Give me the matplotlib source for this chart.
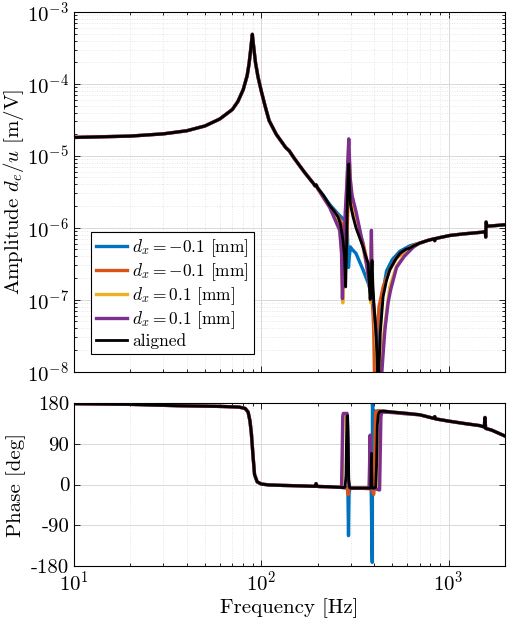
import numpy as np
import matplotlib as mpl
mpl.use('Agg')
import matplotlib.pyplot as plt
from matplotlib.ticker import LogLocator, NullFormatter

# matplotlib setup (LaTeX-like look)
mpl.rcParams['mathtext.fontset'] = 'cm'
mpl.rcParams['font.family'] = 'serif'
mpl.rcParams['font.serif'] = ['cmr10', 'DejaVu Serif']
mpl.rcParams['axes.formatter.use_mathtext'] = True
mpl.rcParams['font.size'] = 15

# ---- data ----
# shared part, below 200 Hz (all series overlap)
f_low = [10, 20, 30, 40, 50, 60, 70, 75, 80, 84, 86, 88, 89.5, 91, 93, 96, 100,
         105, 110, 120, 135, 141, 150, 170, 190, 194, 196]
amp_low = [1.80e-5, 1.88e-5, 2.02e-5, 2.23e-5, 2.60e-5, 3.25e-5, 4.4e-5, 5.7e-5, 8.3e-5,
           1.3e-4, 1.9e-4, 3.2e-4, 4.9e-4, 3.3e-4, 2.0e-4, 1.25e-4, 7.9e-5,
           4.8e-5, 3.1e-5, 2.0e-5, 1.3e-5, 1.17e-5, 9.2e-6, 5.9e-6, 4.1e-6, 3.8e-6, 3.95e-6]

# shared part, above 700 Hz
f_high = [700, 780, 835, 843, 850, 900, 1016, 1200, 1400, 1530, 1570, 1578, 1585, 1600,
          1700, 1850, 2000]
amp_high = [6.1e-7, 6.7e-7, 7.0e-7, 6.6e-7, 7.05e-7, 7.3e-7, 7.8e-7, 8.2e-7, 8.5e-7,
            8.7e-7, 8.9e-7, 7.4e-7, 1.2e-6, 1.05e-6, 1.06e-6, 1.08e-6, 1.1e-6]

# 200 - 650 Hz, per configuration
f_mid_blue = [200, 232, 257, 273, 283, 288, 292, 295, 299, 305, 320, 349, 372, 390, 400,
              408, 413, 418, 436, 466, 500, 549, 621, 650]
amp_mid_blue = [3.6e-6, 2.1e-6, 1.55e-6, 1.33e-6, 1.2e-6, 8e-7, 2.8e-7, 4e-7, 5.4e-7, 5e-7,
                4.4e-7, 2.6e-7, 1.7e-7, 1.1e-7, 6e-8, 2e-8, 4e-9, 2e-8, 9e-8, 2.5e-7,
                3.6e-7, 4.7e-7, 5.6e-7, 5.8e-7]

f_mid_orange = [200, 232, 257, 273, 281, 285, 289, 293, 297, 305, 320, 336, 349, 364, 380,
                390, 398, 404, 410, 425, 447, 485, 527, 580, 621, 650]
amp_mid_orange = [3.55e-6, 2.0e-6, 1.45e-6, 1.05e-6, 7e-7, 5.5e-7, 1.5e-6, 3.5e-6, 2.6e-6,
                  1.9e-6, 1.25e-6, 8.5e-7, 6.2e-7, 3.8e-7, 2.0e-7, 1.2e-7, 4e-8, 4e-9,
                  2.5e-8, 8e-8, 1.5e-7, 2.6e-7, 3.8e-7, 4.7e-7, 5.3e-7, 5.7e-7]

f_mid_yellow = [200, 232, 262, 268, 272, 276, 285, 293, 300, 315, 336, 364, 380, 384, 387,
                391, 410, 425, 440, 457, 485, 527, 580, 621, 650]
amp_mid_yellow = [3.5e-6, 1.95e-6, 1.0e-6, 5e-7, 9e-8, 4e-7, 3e-6, 1.3e-5, 3.5e-6, 1.8e-6,
                  8.8e-7, 3.1e-7, 1.4e-7, 9e-8, 6e-7, 1.5e-7, 2.5e-8, 4e-9, 2e-8, 4.5e-8,
                  1.5e-7, 2.9e-7, 4.2e-7, 4.9e-7, 5.5e-7]

f_mid_purple = [200, 232, 262, 268, 271, 274, 280, 286, 293, 298, 305, 320, 336, 350, 364,
                378, 383, 387, 390, 400, 415, 430, 445, 457, 475, 490, 527, 580, 621, 650]
amp_mid_purple = [3.5e-6, 1.9e-6, 9.2e-7, 4.5e-7, 1.03e-7, 3e-7, 1.5e-6, 4e-6, 1.72e-5,
                  5e-6, 2.8e-6, 1.7e-6, 9.2e-7, 5.5e-7, 3.2e-7, 1.6e-7, 1.2e-7, 9.2e-7,
                  1.5e-7, 7e-8, 2.5e-8, 4e-9, 1.5e-8, 3.8e-8, 9e-8, 1.36e-7, 2.8e-7, 4.0e-7,
                  4.8e-7, 5.4e-7]

f_mid_black = [200, 215, 232, 245, 257, 265, 273, 278, 282, 285, 288, 291, 293, 296, 299,
               304, 309, 320, 335, 349, 362, 372, 378, 381, 386, 390, 394, 400, 408, 414,
               418, 421, 425, 432, 447, 465, 485, 520, 549, 590, 621, 650]
amp_mid_black = [3.55e-6, 2.8e-6, 2.03e-6, 1.7e-6, 1.4e-6, 1.1e-6, 6.6e-7, 4.0e-7, 1.5e-7,
                 5e-7, 2.5e-6, 6e-6, 7.7e-6, 3.5e-6, 2.14e-6, 1.7e-6, 1.4e-6, 1.0e-6,
                 7.2e-7, 5.4e-7, 3.9e-7, 3.2e-7, 1.5e-7, 1.0e-7, 2e-7, 3.5e-7, 1.6e-7,
                 8e-8, 4e-8, 1.8e-8, 8e-9, 4e-9, 1.2e-8, 3.5e-8, 1.1e-7, 1.8e-7, 2.6e-7,
                 3.6e-7, 4.4e-7, 5.0e-7, 5.2e-7, 5.6e-7]

# phase [deg]
fp_low = [10, 20, 36, 60, 76, 82, 85, 87, 88.5, 89.5, 90.5, 92, 95, 100, 110, 130, 160,
          190, 194, 196, 198, 205, 230, 255]
ph_low = [178.5, 177, 174, 172.5, 171, 168, 160, 140, 112, 85, 58, 22, 6, 1, -1, -2, -3,
          -4, -4, 2, -4, -4.5, -5, -6]

fp_high = [700, 835, 843, 850, 1000, 1200, 1469, 1550, 1563, 1575, 1700, 2000]
ph_high = [154, 146, 150, 145, 140, 135, 130, 127, 148, 124, 120, 107]

fp_mid_blue = [260, 280, 288, 290, 292, 294, 297, 340, 380, 386, 389, 391, 392, 394, 400,
               450, 500, 600]
ph_mid_blue = [-6, -7, -8, -20, -113, -20, -8, -8, -8, -10, -120, -172, 177, 165, 162,
               162, 160, 157]

fp_mid_orange = [260, 288, 291, 294, 340, 390, 398, 402, 405, 408, 420, 450, 500, 600]
ph_mid_orange = [-6, -8, -22, -8, -8, -10, -22, 0, 120, 160, 163, 162, 160, 157]

fp_mid_yellow = [260, 270, 272, 274, 286, 289, 292, 340, 378, 381, 384, 410, 424, 427, 432,
                 440, 500, 600]
ph_mid_yellow = [-6, -6, 100, 155, 155, 60, -8, -8, -8, 90, -8, -10, -12, 80, 158, 160,
                 159, 156]

fp_mid_purple = [260, 268, 270, 272, 274, 287, 289, 291, 294, 340, 376, 379, 381, 383, 386,
                 410, 428, 431, 435, 440, 500, 600]
ph_mid_purple = [-6, -6, 60, 150, 157, 157, 120, 20, -8, -8, -8, 60, 109, 60, -8, -10, -12,
                 60, 150, 160, 159, 156]

fp_mid_black = [260, 275, 280, 283, 285, 287, 289, 291, 293, 296, 300, 340, 384, 387, 390,
                396, 408, 412, 416, 421, 428, 450, 500, 600]
ph_mid_black = [-6, -7, -6, 20, 100, 150, 152, 100, 10, -6, -8, -8, -8, 69, -5, -8, -6, 40,
                130, 155, 161, 162, 160, 157]

labels = [r'$d_x = -0.1$ [mm]', r'$d_x = -0.1$ [mm]', r'$d_x = 0.1$ [mm]',
          r'$d_x = 0.1$ [mm]', 'aligned']
colors = ['#0072BD', '#D95319', '#EDB120', '#7E2F8E', 'black']

amp_mids = [(f_mid_blue, amp_mid_blue), (f_mid_orange, amp_mid_orange),
            (f_mid_yellow, amp_mid_yellow), (f_mid_purple, amp_mid_purple),
            (f_mid_black, amp_mid_black)]
ph_mids = [(fp_mid_blue, ph_mid_blue), (fp_mid_orange, ph_mid_orange),
           (fp_mid_yellow, ph_mid_yellow), (fp_mid_purple, ph_mid_purple),
           (fp_mid_black, ph_mid_black)]

# ---- figure ----
fig = plt.figure(figsize=(5.09, 6.25), dpi=100)
ax1 = fig.add_axes([0.1454, 0.4056, 0.8468, 0.5752])
ax2 = fig.add_axes([0.1454, 0.0944, 0.8468, 0.2608], sharex=ax1)

for i in range(5):
  lw = 2.0 if i == 4 else 2.4
  f = np.concatenate([f_low, amp_mids[i][0], f_high])
  a = np.concatenate([amp_low, amp_mids[i][1], amp_high])
  ax1.plot(f, a, color=colors[i], lw=lw, label=labels[i])
  fp = np.concatenate([fp_low, ph_mids[i][0], fp_high])
  p = np.concatenate([ph_low, ph_mids[i][1], ph_high])
  ax2.plot(fp, p, color=colors[i], lw=lw)

for ax in (ax1, ax2):
  ax.set_xscale('log')
  ax.set_xlim(10, 2000)
  ax.tick_params(which='both', direction='in', top=True, right=True, width=0.6)
  ax.tick_params(which='major', length=4)
  ax.tick_params(which='minor', length=2.2)
  ax.grid(True, which='major', color='#d9d9d9', lw=0.7)
  ax.grid(True, which='minor', axis='x', color='#dcdcdc', lw=0.6, ls=(0, (1, 2)))
  for s in ax.spines.values():
    s.set_linewidth(0.8)
  ax.set_axisbelow(True)

ax1.set_yscale('log')
ax1.set_ylim(1e-8, 1e-3)
ax1.yaxis.set_major_locator(LogLocator(base=10, numticks=10))
ax1.yaxis.set_minor_locator(LogLocator(base=10, subs=np.arange(2, 10), numticks=20))
ax1.yaxis.set_minor_formatter(NullFormatter())
ax1.grid(True, which='minor', axis='y', color='#dcdcdc', lw=0.6, ls=(0, (1, 2)))
ax1.tick_params(labelbottom=False)
ax1.set_ylabel(r'Amplitude $d_e/u$ [m/V]')
ax1.yaxis.set_label_coords(-0.112, 0.5)

ax2.set_ylim(-180, 180)
ax2.set_yticks([-180, -90, 0, 90, 180])
ax2.set_yticklabels(['-180', '-90', '0', '90', '180'])
ax2.set_ylabel('Phase [deg]')
ax2.yaxis.set_label_coords(-0.112, 0.5)
ax2.set_xlabel('Frequency [Hz]', labelpad=2)

leg = ax1.legend(loc='lower left', bbox_to_anchor=(0.039, 0.049), borderaxespad=0,
                 fancybox=False, framealpha=1, edgecolor='black', fontsize=12.5,
                 handlelength=1.8, handletextpad=0.3, labelspacing=0.12,
                 borderpad=0.3)
leg.get_frame().set_linewidth(0.8)

fig.savefig('out.png', dpi=100)
